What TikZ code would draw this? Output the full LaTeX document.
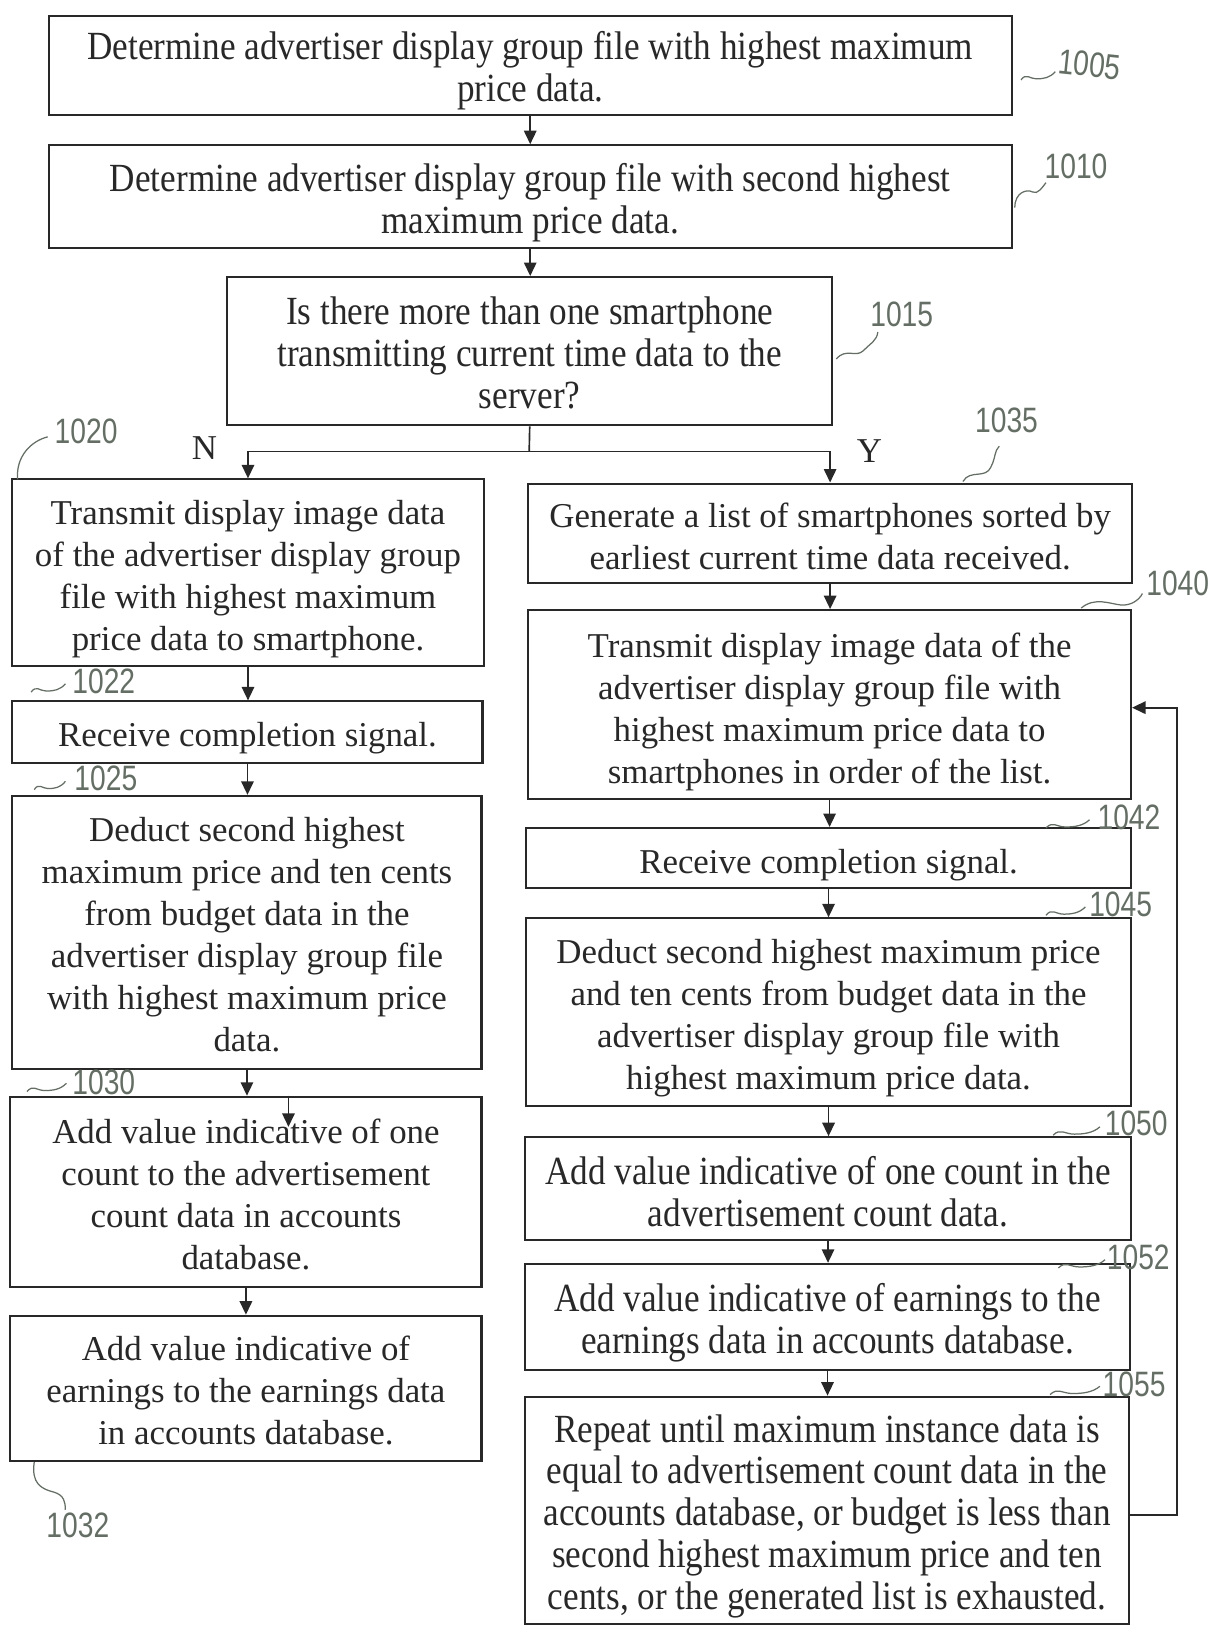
\documentclass[tikz,border=0pt]{standalone}
\usepackage{fontspec}
\setmainfont{Liberation Serif}
\newfontfamily\condfam{Liberation Serif}[FakeStretch=0.88]
\newfontfamily\handfam{Liberation Sans}[FakeStretch=0.8]
\usetikzlibrary{arrows.meta}
\definecolor{ink}{RGB}{40,40,40}
\definecolor{pencil}{RGB}{100,110,100}
\newcommand\nfont{\fontsize{33.6pt}{40.5pt}\selectfont}
\newcommand\cfont{\condfam\fontsize{38.5pt}{40.3pt}\selectfont}
\newcommand\hfont{\handfam\fontsize{34pt}{36pt}\selectfont}
\newcommand\tp{\rule{0pt}{40pt}}
\newcommand\ctp{\rule{0pt}{42pt}}
\newcommand\tld[2]{\draw[lead] #1 .. controls +(0.15*#2,-7) and +(-0.2*#2,0) .. ++(0.45*#2,-1) .. controls +(0.2*#2,0) and +(-0.15*#2,6) .. ++(0.55*#2,-7);}
\begin{document}
\begin{tikzpicture}[x=1pt,y=-1pt,
 box/.style={draw=ink,line width=2pt,inner sep=0pt,align=center,text=ink,font=\nfont},
 cbox/.style={box,font=\cfont},
 arr/.style={draw=ink,line width=1.6pt,-{Triangle[length=13pt,width=12pt]}},
 plain/.style={draw=ink,line width=1.6pt},
 reflab/.style={text=pencil,font=\hfont,inner sep=0pt},
 lead/.style={draw=pencil,line width=1.2pt}]
\fill[white] (0,0) rectangle (1174,1568);
\useasboundingbox (0,0) rectangle (1174,1568);

% top boxes
\node[cbox,minimum width=928pt,minimum height=96pt] (b1005) at (511,63) {\ctp Determine advertiser display group file with highest maximum\\price data.\strut};
\node[cbox,minimum width=928pt,minimum height=99pt] (b1010) at (511,189.5) {\ctp Determine advertiser display group file with second highest\\maximum price data.\strut};
\node[cbox,minimum width=583pt,minimum height=143pt] (b1015) at (510.5,338.5) {\ctp Is there more than one smartphone\\transmitting current time data to the\\server?\strut};

% left column
\node[box,minimum width=454pt,minimum height=180pt] (l1020) at (239,552) {\tp Transmit display image data\\of the advertiser display group\\file with highest maximum\\price data to smartphone.\strut};
\node[box,minimum width=453pt,minimum height=59pt] (l1022) at (238.5,705.5) {\tp Receive completion signal.\strut};
\node[box,minimum width=452pt,minimum height=263pt] (l1025) at (238,898.5) {\tp Deduct second highest\\maximum price and ten cents\\from budget data in the\\advertiser display group file\\with highest maximum price\\data.\strut};
\node[box,minimum width=454pt,minimum height=183pt] (l1030) at (237,1148.5) {\tp Add value indicative of one\\count to the advertisement\\count data in accounts\\database.\strut};
\node[box,minimum width=454pt,minimum height=140pt] (l1032) at (237,1338) {\tp Add value indicative of\\earnings to the earnings data\\in accounts database.\strut};

% right column
\node[box,minimum width=582pt,minimum height=96pt] (r1035) at (800,514) {\ctp Generate a list of smartphones sorted by\\earliest current time data received.\strut};
\node[box,minimum width=581pt,minimum height=182pt] (r1040) at (799.5,679) {\ctp Transmit display image data of the\\advertiser display group file with\\highest maximum price data to\\smartphones in order of the list.\strut};
\node[box,minimum width=583pt,minimum height=58pt] (r1042) at (798.5,827) {\ctp Receive completion signal.\strut};
\node[box,minimum width=583pt,minimum height=181pt] (r1045) at (798.5,975.5) {\tp Deduct second highest maximum price\\and ten cents from budget data in the\\advertiser display group file with\\highest maximum price data.\strut};
\node[cbox,minimum width=584pt,minimum height=99pt] (r1050) at (798,1145.5) {\rule{0pt}{44pt}Add value indicative of one count in the\\advertisement count data.\strut};
\node[cbox,minimum width=583pt,minimum height=102pt] (r1052) at (797.5,1269) {\ctp Add value indicative of earnings to the\\earnings data in accounts database.\strut};
\node[cbox,minimum width=582pt,minimum height=219pt] (r1055) at (797,1455.5) {\ctp Repeat until maximum instance data is\\equal to advertisement count data in the\\accounts database, or budget is less than\\second highest maximum price and ten\\cents, or the generated list is exhausted.\strut};

% connectors
\draw[arr] (b1005.south) -- (b1005.south |- b1010.north);
\draw[arr] (b1010.south) -- (b1010.south |- b1015.north);
\coordinate (split) at (510,435);
\draw[plain] (b1015.south) -- (split);
\draw[arr] (split) -| (l1020.north);
\draw[arr] (split) -| (r1035.north);
\node[font=\nfont,text=ink,inner sep=0pt] (lN) at (197,432) {N};
\node[font=\nfont,text=ink,inner sep=0pt] (lY) at (838,435) {Y};

\draw[arr] (l1020.south) -- (l1020.south |- l1022.north);
\draw[arr] (l1022.south) -- (l1022.south |- l1025.north);
\draw[arr] (l1025.south) -- (l1025.south |- l1030.north);
\coordinate (stray) at (278,1086);
\draw[arr] (stray |- l1030.north) -- (stray);
\draw[arr] (l1030.south) -- (l1030.south |- l1032.north);

\draw[arr] (r1035.south) -- (r1035.south |- r1040.north);
\draw[arr] (r1040.south) -- (r1040.south |- r1042.north);
\draw[arr] (r1042.south) -- (r1042.south |- r1045.north);
\draw[arr] (r1045.south) -- (r1045.south |- r1050.north);
\draw[arr] (r1050.south) -- (r1050.south |- r1052.north);
\draw[arr] (r1052.south) -- (r1052.south |- r1055.north);
\draw[arr] ([yshift=-4.5pt]r1055.east) -- ++(45,0) |- ([yshift=-3pt]r1040.east);

% reference numerals
\node[reflab,rotate=-6] (n1005) at (1050,62) {1005};
\tld{(984,77)}{33}
\node[reflab] (n1010) at (1037,160) {1010};
\draw[lead] (978,200) .. controls (978,185) and (990,182) .. (995,185) .. controls (1000,188) and (1005,180) .. (1008,176);
\node[reflab] (n1015) at (869,303) {1015};
\draw[lead] (806,346) .. controls (815,335) and (825,345) .. (832,338) .. controls (840,330) and (845,328) .. (846,320);
\node[reflab] (n1020) at (83,416) {1020};
\draw[lead] (17,462) .. controls (15,440) and (30,425) .. (46,421);
\node[reflab] (n1035) at (970,405) {1035};
\draw[lead] (928,464) .. controls (935,452) and (950,462) .. (955,450) .. controls (960,440) and (958,435) .. (963,430);
\node[reflab] (n1040) at (1135,562) {1040};
\draw[lead] (1042,586) .. controls (1055,575) and (1070,582) .. (1080,583) .. controls (1090,584) and (1098,578) .. (1101,572);
\node[reflab] (n1022) at (100,657) {1022};
\tld{(30,667)}{33}
\node[reflab] (n1025) at (102,750) {1025};
\tld{(33,761)}{30}
\node[reflab] (n1030) at (100,1043) {1030};
\tld{(26,1052)}{38}
\node[reflab] (n1032) at (75,1470) {1032};
\draw[lead] (33,1409) .. controls (30,1430) and (40,1435) .. (52,1438) .. controls (62,1441) and (63,1448) .. (63,1455);
\node[reflab] (n1042) at (1088,788) {1042};
\tld{(1008,798)}{42}
\node[reflab] (n1045) at (1080,872) {1045};
\tld{(1008,882)}{38}
\node[reflab] (n1050) at (1095,1083) {1050};
\tld{(1015,1094)}{45}
\node[reflab] (n1052) at (1097,1212) {1052};
\tld{(1020,1222)}{45}
\node[reflab] (n1055) at (1093,1334) {1055};
\tld{(1012,1344)}{48}
\end{tikzpicture}
\end{document}
